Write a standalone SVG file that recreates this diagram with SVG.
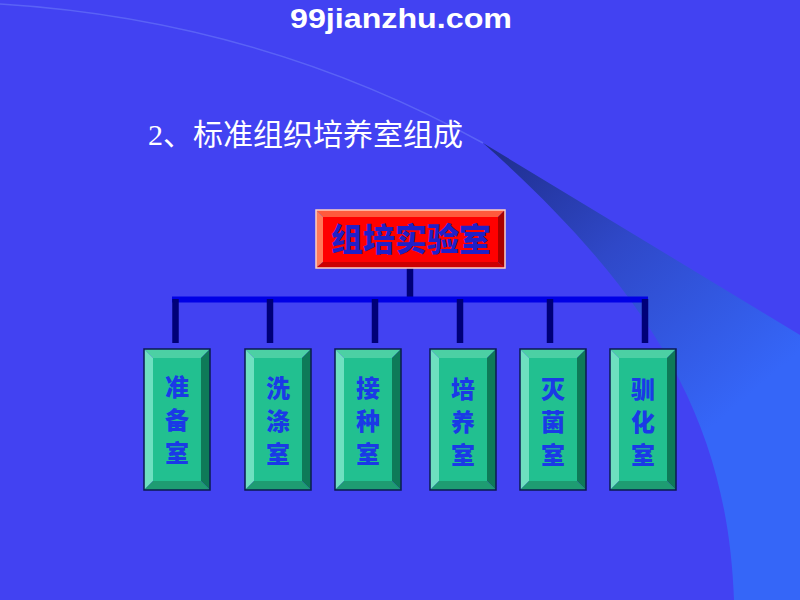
<svg xmlns="http://www.w3.org/2000/svg" width="800" height="600" viewBox="0 0 800 600">
<defs>
<linearGradient id="sw" x1="483" y1="143" x2="720" y2="420" gradientUnits="userSpaceOnUse">
<stop offset="0" stop-color="#1e2c8a"/>
<stop offset="0.45" stop-color="#2f48c8"/>
<stop offset="1" stop-color="#3566f8"/>
</linearGradient>
<style>
.title{font-family:"Liberation Serif","Noto Sans CJK SC",serif;font-size:30px;fill:#ffffff}
.wm{font-family:"Liberation Sans","DejaVu Sans",sans-serif;font-weight:900;font-size:27px;fill:#ffffff}
.rt{font-family:"Noto Sans CJK SC",sans-serif;font-weight:900;font-size:32px;fill:#2020c8;text-anchor:middle}
.gt{font-family:"Noto Sans CJK SC",sans-serif;font-weight:900;font-size:24px;fill:#1a3ae6;text-anchor:middle}
.gl{fill:#6ee0c0}.gtp{fill:#4cd0a4}.gr{fill:#0e7a58}.gb{fill:#1e9c72}.gf{fill:#22c090}
.go{fill:none;stroke:#0a1a50;stroke-width:1.5}
.vl{stroke:#000078;stroke-width:6.5}
</style>
</defs>
<rect width="800" height="600" fill="#4242f2"/>
<path d="M0,4 Q260,20 483,143" fill="none" stroke="#6a78f8" stroke-width="1.5" opacity="0.6"/>
<path d="M483,143 L800,335 L800,600 L734,600 C728,430 660,300 483,143 Z" fill="url(#sw)"/>
<text class="wm" x="290" y="28" textLength="222" lengthAdjust="spacingAndGlyphs">99jianzhu.com</text>
<text class="title" x="148" y="145">2、标准组织培养室组成</text>

<g id="connectors">
<line class="vl" x1="410" y1="268" x2="410" y2="298"/>
<line x1="172" y1="299.5" x2="648" y2="299.5" stroke="#0000e6" stroke-width="6"/>
<line class="vl" x1="175.5" y1="299" x2="175.5" y2="343"/>
<line class="vl" x1="270" y1="299" x2="270" y2="343"/>
<line class="vl" x1="375" y1="299" x2="375" y2="343"/>
<line class="vl" x1="460" y1="299" x2="460" y2="343"/>
<line class="vl" x1="550" y1="299" x2="550" y2="343"/>
<line class="vl" x1="645" y1="299" x2="645" y2="343"/>
</g>

<g id="root">
<polygon points="316,210 505,210 498,217 323,217" fill="#ff5a3c"/>
<polygon points="316,210 323,217 323,262 316,268" fill="#ff7a5a"/>
<polygon points="505,210 505,268 498,262 498,217" fill="#a80000"/>
<polygon points="316,268 323,262 498,262 505,268" fill="#cc0000"/>
<rect x="323" y="217" width="175" height="45" fill="#ff0000"/>
<rect x="316" y="210" width="189" height="58" fill="none" stroke="#ffd0c0" stroke-width="1.5"/>
<text class="rt" x="411" y="251">组培实验室</text>
</g>

<g id="n1" transform="translate(144,349)">
<polygon class="gtp" points="0,0 66,0 57,9 9,9"/>
<polygon class="gl" points="0,0 9,9 9,132 0,141"/>
<polygon class="gr" points="66,0 66,141 57,132 57,9"/>
<polygon class="gb" points="0,141 9,132 57,132 66,141"/>
<rect class="gf" x="9" y="9" width="48" height="123"/>
<rect class="go" x="0" y="0" width="66" height="141"/>
<text class="gt" x="33" y="47">准</text><text class="gt" x="33" y="80">备</text><text class="gt" x="33" y="113">室</text>
</g>
<g id="n2" transform="translate(245,349)">
<polygon class="gtp" points="0,0 66,0 57,9 9,9"/>
<polygon class="gl" points="0,0 9,9 9,132 0,141"/>
<polygon class="gr" points="66,0 66,141 57,132 57,9"/>
<polygon class="gb" points="0,141 9,132 57,132 66,141"/>
<rect class="gf" x="9" y="9" width="48" height="123"/>
<rect class="go" x="0" y="0" width="66" height="141"/>
<text class="gt" x="33" y="48">洗</text><text class="gt" x="33" y="81">涤</text><text class="gt" x="33" y="114">室</text>
</g>
<g id="n3" transform="translate(335,349)">
<polygon class="gtp" points="0,0 66,0 57,9 9,9"/>
<polygon class="gl" points="0,0 9,9 9,132 0,141"/>
<polygon class="gr" points="66,0 66,141 57,132 57,9"/>
<polygon class="gb" points="0,141 9,132 57,132 66,141"/>
<rect class="gf" x="9" y="9" width="48" height="123"/>
<rect class="go" x="0" y="0" width="66" height="141"/>
<text class="gt" x="33" y="48">接</text><text class="gt" x="33" y="81">种</text><text class="gt" x="33" y="114">室</text>
</g>
<g id="n4" transform="translate(430,349)">
<polygon class="gtp" points="0,0 66,0 57,9 9,9"/>
<polygon class="gl" points="0,0 9,9 9,132 0,141"/>
<polygon class="gr" points="66,0 66,141 57,132 57,9"/>
<polygon class="gb" points="0,141 9,132 57,132 66,141"/>
<rect class="gf" x="9" y="9" width="48" height="123"/>
<rect class="go" x="0" y="0" width="66" height="141"/>
<text class="gt" x="33" y="49">培</text><text class="gt" x="33" y="82">养</text><text class="gt" x="33" y="115">室</text>
</g>
<g id="n5" transform="translate(520,349)">
<polygon class="gtp" points="0,0 66,0 57,9 9,9"/>
<polygon class="gl" points="0,0 9,9 9,132 0,141"/>
<polygon class="gr" points="66,0 66,141 57,132 57,9"/>
<polygon class="gb" points="0,141 9,132 57,132 66,141"/>
<rect class="gf" x="9" y="9" width="48" height="123"/>
<rect class="go" x="0" y="0" width="66" height="141"/>
<text class="gt" x="33" y="49">灭</text><text class="gt" x="33" y="82">菌</text><text class="gt" x="33" y="115">室</text>
</g>
<g id="n6" transform="translate(610,349)">
<polygon class="gtp" points="0,0 66,0 57,9 9,9"/>
<polygon class="gl" points="0,0 9,9 9,132 0,141"/>
<polygon class="gr" points="66,0 66,141 57,132 57,9"/>
<polygon class="gb" points="0,141 9,132 57,132 66,141"/>
<rect class="gf" x="9" y="9" width="48" height="123"/>
<rect class="go" x="0" y="0" width="66" height="141"/>
<text class="gt" x="33" y="49">驯</text><text class="gt" x="33" y="82">化</text><text class="gt" x="33" y="115">室</text>
</g>
</svg>
